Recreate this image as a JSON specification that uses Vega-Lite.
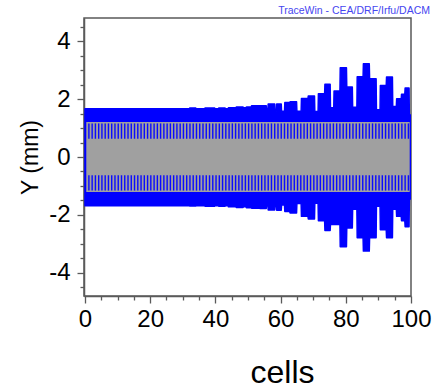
{
  "$schema": "https://vega.github.io/schema/vega-lite/v6.json",
  "width": 327,
  "height": 278,
  "autosize": "none",
  "padding": {"left": 84, "top": 18, "right": 34, "bottom": 92},
  "background": "white",
  "config": {
    "font": "Liberation Sans",
    "view": {"stroke": "#5a5a5a", "strokeWidth": 1.5},
    "axis": {"domainColor": "#5a5a5a", "domainWidth": 1.5, "tickColor": "#5a5a5a", "tickWidth": 1.3, "grid": false, "labelColor": "black", "labelFont": "Liberation Sans", "titleFont": "Liberation Sans", "titleColor": "black", "titleFontWeight": "normal"}
  },
  "title": {"text": "TraceWin - CEA/DRF/Irfu/DACM", "anchor": "end", "fontSize": 10.5, "fontWeight": "normal", "color": "#4646f0", "font": "Liberation Sans", "baseline": "bottom", "offset": 3, "dx": -1, "dy": 11},
  "datasets": {
    "env": [
      {"x": 0, "up": 1.67, "lo": -1.68}, {"x": 32, "up": 1.67, "lo": -1.68},
      {"x": 32.1, "up": 1.69, "lo": -1.69}, {"x": 34, "up": 1.69, "lo": -1.69},
      {"x": 34.1, "up": 1.67, "lo": -1.68}, {"x": 36.7, "up": 1.67, "lo": -1.68},
      {"x": 36.8, "up": 1.69, "lo": -1.7}, {"x": 39.8, "up": 1.69, "lo": -1.7},
      {"x": 39.9, "up": 1.67, "lo": -1.68}, {"x": 40.9, "up": 1.67, "lo": -1.68},
      {"x": 41, "up": 1.69, "lo": -1.7}, {"x": 43, "up": 1.69, "lo": -1.7},
      {"x": 43.1, "up": 1.67, "lo": -1.68}, {"x": 43.9, "up": 1.67, "lo": -1.68},
      {"x": 44, "up": 1.7, "lo": -1.72}, {"x": 46.3, "up": 1.7, "lo": -1.72},
      {"x": 46.4, "up": 1.73, "lo": -1.74}, {"x": 48.5, "up": 1.73, "lo": -1.74},
      {"x": 48.6, "up": 1.7, "lo": -1.72}, {"x": 49.4, "up": 1.7, "lo": -1.72},
      {"x": 49.5, "up": 1.73, "lo": -1.75}, {"x": 51, "up": 1.73, "lo": -1.75},
      {"x": 51.1, "up": 1.77, "lo": -1.77}, {"x": 53.6, "up": 1.77, "lo": -1.77},
      {"x": 53.7, "up": 1.77, "lo": -1.78}, {"x": 55.6, "up": 1.77, "lo": -1.78},
      {"x": 55.7, "up": 1.62, "lo": -1.66}, {"x": 56.1, "up": 1.62, "lo": -1.66},
      {"x": 56.2, "up": 1.83, "lo": -1.83}, {"x": 58.2, "up": 1.83, "lo": -1.83},
      {"x": 58.3, "up": 1.58, "lo": -1.66}, {"x": 58.7, "up": 1.58, "lo": -1.66},
      {"x": 58.8, "up": 1.83, "lo": -1.84}, {"x": 60.2, "up": 1.83, "lo": -1.84},
      {"x": 60.3, "up": 1.58, "lo": -1.66}, {"x": 61.2, "up": 1.58, "lo": -1.66},
      {"x": 61.3, "up": 1.88, "lo": -1.88}, {"x": 62.8, "up": 1.88, "lo": -1.88},
      {"x": 62.9, "up": 1.91, "lo": -1.93}, {"x": 64.9, "up": 1.91, "lo": -1.93},
      {"x": 65, "up": 1.58, "lo": -1.61}, {"x": 66.3, "up": 1.58, "lo": -1.61},
      {"x": 66.4, "up": 2.02, "lo": -2.05}, {"x": 68.4, "up": 2.02, "lo": -2.05},
      {"x": 68.5, "up": 2.11, "lo": -2.14}, {"x": 70.4, "up": 2.11, "lo": -2.14},
      {"x": 70.5, "up": 1.57, "lo": -1.6}, {"x": 71.5, "up": 1.57, "lo": -1.6},
      {"x": 71.6, "up": 2.18, "lo": -2.2}, {"x": 73.5, "up": 2.18, "lo": -2.2},
      {"x": 73.6, "up": 2.51, "lo": -2.54}, {"x": 75.2, "up": 2.51, "lo": -2.54},
      {"x": 75.3, "up": 1.7, "lo": -2.33}, {"x": 76.3, "up": 1.7, "lo": -2.33},
      {"x": 76.4, "up": 2.28, "lo": -2.33}, {"x": 78.2, "up": 2.28, "lo": -2.33},
      {"x": 78.3, "up": 3.08, "lo": -3.1}, {"x": 80.2, "up": 3.08, "lo": -3.1},
      {"x": 80.3, "up": 2.42, "lo": -2.45}, {"x": 82, "up": 2.42, "lo": -2.45},
      {"x": 82.1, "up": 1.72, "lo": -1.8}, {"x": 83.4, "up": 1.72, "lo": -1.8},
      {"x": 83.5, "up": 2.77, "lo": -2.79}, {"x": 85.3, "up": 2.77, "lo": -2.79},
      {"x": 85.4, "up": 3.22, "lo": -3.25}, {"x": 87.2, "up": 3.22, "lo": -3.25},
      {"x": 87.3, "up": 2.7, "lo": -2.79}, {"x": 89.3, "up": 2.7, "lo": -2.79},
      {"x": 89.4, "up": 1.63, "lo": -1.7}, {"x": 90.5, "up": 1.63, "lo": -1.7},
      {"x": 90.6, "up": 2.47, "lo": -2.51}, {"x": 92.4, "up": 2.47, "lo": -2.51},
      {"x": 92.5, "up": 2.76, "lo": -2.79}, {"x": 94.3, "up": 2.76, "lo": -2.79},
      {"x": 94.4, "up": 1.74, "lo": -1.8}, {"x": 95.5, "up": 1.74, "lo": -1.8},
      {"x": 95.6, "up": 2.01, "lo": -2.05}, {"x": 97, "up": 2.01, "lo": -2.05},
      {"x": 97.1, "up": 2.17, "lo": -2.2}, {"x": 98.1, "up": 2.17, "lo": -2.2},
      {"x": 98.2, "up": 2.38, "lo": -2.41}, {"x": 99.4, "up": 2.38, "lo": -2.41},
      {"x": 99.5, "up": 1.45, "lo": -1.45}, {"x": 100, "up": 1.45, "lo": -1.45}
    ],
    "core": [
      {"x": 0.4, "top": 1.21, "bottom": -1.21},
      {"x": 99.6, "top": 1.21, "bottom": -1.21}
    ],
    "stripes": [
      {"x": 1.2}, {"x": 2.2}, {"x": 3.2}, {"x": 4.2}, {"x": 5.2}, {"x": 6.2}, {"x": 7.2}, {"x": 8.2}, {"x": 9.2}, {"x": 10.2},
      {"x": 11.2}, {"x": 12.2}, {"x": 13.2}, {"x": 14.2}, {"x": 15.2}, {"x": 16.2}, {"x": 17.2}, {"x": 18.2}, {"x": 19.2}, {"x": 20.2},
      {"x": 21.2}, {"x": 22.2}, {"x": 23.2}, {"x": 24.2}, {"x": 25.2}, {"x": 26.2}, {"x": 27.2}, {"x": 28.2}, {"x": 29.2}, {"x": 30.2},
      {"x": 31.2}, {"x": 32.2}, {"x": 33.2}, {"x": 34.2}, {"x": 35.2}, {"x": 36.2}, {"x": 37.2}, {"x": 38.2}, {"x": 39.2}, {"x": 40.2},
      {"x": 41.2}, {"x": 42.2}, {"x": 43.2}, {"x": 44.2}, {"x": 45.2}, {"x": 46.2}, {"x": 47.2}, {"x": 48.2}, {"x": 49.2}, {"x": 50.2},
      {"x": 51.2}, {"x": 52.2}, {"x": 53.2}, {"x": 54.2}, {"x": 55.2}, {"x": 56.2}, {"x": 57.2}, {"x": 58.2}, {"x": 59.2}, {"x": 60.2},
      {"x": 61.2}, {"x": 62.2}, {"x": 63.2}, {"x": 64.2}, {"x": 65.2}, {"x": 66.2}, {"x": 67.2}, {"x": 68.2}, {"x": 69.2}, {"x": 70.2},
      {"x": 71.2}, {"x": 72.2}, {"x": 73.2}, {"x": 74.2}, {"x": 75.2}, {"x": 76.2}, {"x": 77.2}, {"x": 78.2}, {"x": 79.2}, {"x": 80.2},
      {"x": 81.2}, {"x": 82.2}, {"x": 83.2}, {"x": 84.2}, {"x": 85.2}, {"x": 86.2}, {"x": 87.2}, {"x": 88.2}, {"x": 89.2}, {"x": 90.2},
      {"x": 91.2}, {"x": 92.2}, {"x": 93.2}, {"x": 94.2}, {"x": 95.2}, {"x": 96.2}, {"x": 97.2}, {"x": 98.2}, {"x": 99.2}
    ]
  },
  "layer": [
    {
      "data": {"name": "env"},
      "mark": {"type": "area", "color": "#0000ff", "opacity": 1, "clip": true, "stroke": "#0000ff", "strokeWidth": 1.5, "strokeJoin": "round"},
      "encoding": {
        "x": {"field": "x", "type": "quantitative", "scale": {"domain": [-0.3, 100], "nice": false, "zero": false},
          "axis": {"orient": "bottom", "values": [0, 20, 40, 60, 80, 100], "tickSize": 7, "labelFontSize": 24, "labelPadding": 4, "labelFlush": false,
            "title": "cells", "titleFontSize": 32, "titleX": 198, "titleY": 86, "titleBaseline": "alphabetic", "titleAlign": "center"}},
        "y": {"field": "up", "type": "quantitative", "scale": {"domain": [-4.8, 4.8], "nice": false, "zero": false},
          "axis": {"orient": "left", "values": [-4, -2, 0, 2, 4], "tickSize": 7, "labelFontSize": 24, "labelPadding": 7, "labelExpr": "datum.value + ''",
            "title": "Y (mm)", "titleFontSize": 23, "titleX": -54, "titleY": 139, "titleAngle": -90, "titleBaseline": "middle", "titleAlign": "center"}},
        "y2": {"field": "lo"}
      }
    },
    {
      "data": {"name": "core"},
      "mark": {"type": "area", "color": "#a0a0a0", "opacity": 1},
      "encoding": {
        "x": {"field": "x", "type": "quantitative",
          "axis": {"orient": "bottom", "values": [5, 10, 15, 25, 30, 35, 45, 50, 55, 65, 70, 75, 85, 90, 95], "tickSize": 4, "labels": false, "domain": false, "title": null}},
        "y": {"field": "top", "type": "quantitative",
          "axis": {"orient": "left", "values": [-4.5, -3.5, -3, -2.5, -1.5, -1, -0.5, 0.5, 1, 1.5, 2.5, 3, 3.5, 4.5], "tickSize": 4, "labels": false, "domain": false, "title": null}},
        "y2": {"field": "bottom"}
      }
    },
    {
      "data": {"name": "stripes"},
      "mark": {"type": "rule", "color": "#0a0aff", "strokeWidth": 1.4},
      "encoding": {
        "x": {"field": "x", "type": "quantitative", "axis": null},
        "y": {"datum": 0.63, "type": "quantitative", "axis": null},
        "y2": {"datum": 1.16}
      }
    },
    {
      "data": {"name": "stripes"},
      "mark": {"type": "rule", "color": "#0a0aff", "strokeWidth": 1.4},
      "encoding": {
        "x": {"field": "x", "type": "quantitative", "axis": null},
        "y": {"datum": -0.63, "type": "quantitative", "axis": null},
        "y2": {"datum": -1.16}
      }
    }
  ],
  "resolve": {"axis": {"x": "independent", "y": "independent"}}
}
